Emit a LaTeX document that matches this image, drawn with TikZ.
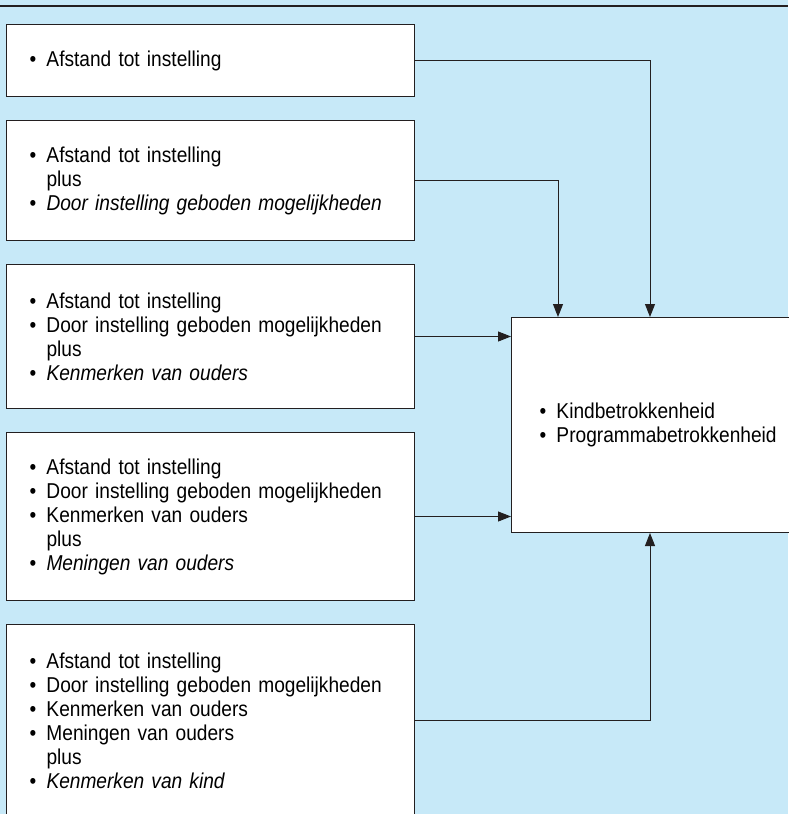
\documentclass[tikz,border=0pt]{standalone}
\usepackage{fontspec}
\setmainfont{Liberation Sans}[FakeStretch=0.89, WordSpace=0.75]
\usetikzlibrary{arrows.meta, positioning, calc}
\definecolor{panelblue}{RGB}{199, 233, 248}
\definecolor{linecolor}{RGB}{35, 31, 32}
\newcommand{\itm}[1]{\makebox[17pt][l]{\textbullet}#1}
\newcommand{\pls}{\hspace*{17pt}plus}

\begin{document}
\begin{tikzpicture}[
    x=1pt, y=1pt,
    node distance=23pt, % gap between the factor boxes
    % Styles
    factorbox/.style={
        rectangle,
        draw=linecolor,
        line width=1pt,
        fill=white,
        text width=362pt,
        inner xsep=23pt,
        inner ysep=0pt,
        align=left,
        minimum height=#1,
        font=\fontsize{21.5}{24}\selectfont
    },
    outcomebox/.style={
        rectangle,
        draw=linecolor,
        line width=1pt,
        fill=white,
        text width=280pt,
        inner xsep=28pt,
        align=left,
        minimum height=215pt,
        font=\fontsize{21.5}{24}\selectfont
    },
    arrow/.style={
        draw=linecolor,
        line width=1pt,
        -{Triangle[length=13pt, width=10pt]}
    }
]

% --- Panel ---
\useasboundingbox (0,0) rectangle (788,-814);
\fill [panelblue] (0,0) rectangle (788,-814);
\draw [linecolor, line width=2.5pt] (0,-6) -- (788,-6);

% --- Factor boxes (left column) ---
\node (dist_box) [factorbox=72pt, anchor=north west] at (6,-24) {
    \itm{Afstand tot instelling}
};

\node (opp_box) [factorbox=120pt, below=of dist_box] {
    \itm{Afstand tot instelling}\\
    \pls\\
    \itm{\textit{Door instelling geboden mogelijkheden}}
};

\node (parent_box) [factorbox=144pt, below=of opp_box] {
    \itm{Afstand tot instelling}\\
    \itm{Door instelling geboden mogelijkheden}\\
    \pls\\
    \itm{\textit{Kenmerken van ouders}}
};

\node (opinion_box) [factorbox=168pt, below=of parent_box] {
    \itm{Afstand tot instelling}\\
    \itm{Door instelling geboden mogelijkheden}\\
    \itm{Kenmerken van ouders}\\
    \pls\\
    \itm{\textit{Meningen van ouders}}
};

\node (child_box) [factorbox=192pt, below=of opinion_box] {
    \itm{Afstand tot instelling}\\
    \itm{Door instelling geboden mogelijkheden}\\
    \itm{Kenmerken van ouders}\\
    \itm{Meningen van ouders}\\
    \pls\\
    \itm{\textit{Kenmerken van kind}}
};

% --- Outcome box (right) ---
\node (outcome_box) [outcomebox, anchor=north west] at (511,-317) {
    \itm{Kindbetrokkenheid}\\
    \itm{Programmabetrokkenheid}
};

% --- Connections ---
\draw [arrow] (dist_box.east) -| ([xshift=139pt]outcome_box.north west);
\draw [arrow] (opp_box.east) -| ([xshift=47pt]outcome_box.north west);
\draw [arrow] (parent_box.east) -- (parent_box.east -| outcome_box.west);
\draw [arrow] (opinion_box.east) -- (opinion_box.east -| outcome_box.west);
\draw [arrow] (child_box.east) -| ([xshift=139pt]outcome_box.south west);

\end{tikzpicture}
\end{document}
